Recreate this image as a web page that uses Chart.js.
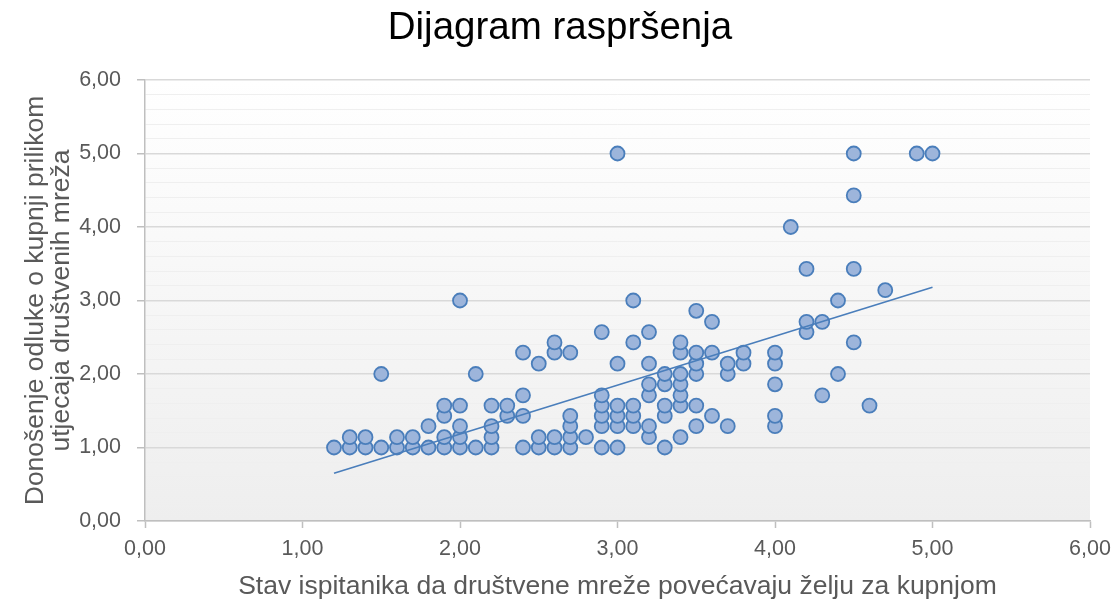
<!DOCTYPE html>
<html>
<head>
<meta charset="utf-8">
<script src="https://cdn.jsdelivr.net/npm/chart.js@4"></script>
<style>
  html, body { margin: 0; padding: 0; background: #fff; }
  canvas { display: block; }
</style>
</head>
<body>
<canvas id="chart" width="1120" height="601"></canvas>
<script>
// values, one line per x column
const xValues = [
  1.2,
  1.3, 1.3,
  1.4, 1.4,
  1.5, 1.5,
  1.6, 1.6,
  1.7, 1.7,
  1.8, 1.8,
  1.9, 1.9, 1.9, 1.9,
  2.0, 2.0, 2.0, 2.0, 2.0,
  2.1, 2.1,
  2.2, 2.2, 2.2, 2.2,
  2.3, 2.3,
  2.4, 2.4, 2.4, 2.4,
  2.5, 2.5, 2.5,
  2.6, 2.6, 2.6, 2.6,
  2.7, 2.7, 2.7, 2.7, 2.7,
  2.8,
  2.9, 2.9, 2.9, 2.9, 2.9, 2.9,
  3.0, 3.0, 3.0, 3.0, 3.0, 3.0,
  3.1, 3.1, 3.1, 3.1, 3.1,
  3.2, 3.2, 3.2, 3.2, 3.2, 3.2,
  3.3, 3.3, 3.3, 3.3, 3.3,
  3.4, 3.4, 3.4, 3.4, 3.4, 3.4, 3.4,
  3.5, 3.5, 3.5, 3.5, 3.5, 3.5,
  3.6, 3.6, 3.6,
  3.7, 3.7, 3.7,
  3.8, 3.8,
  4.0, 4.0, 4.0, 4.0, 4.0,
  4.1,
  4.2, 4.2, 4.2,
  4.3, 4.3,
  4.4, 4.4,
  4.5, 4.5, 4.5, 4.5,
  4.6,
  4.7,
  4.9,
  5.0
];
const yValues = [
  1.00,
  1.00, 1.14,
  1.00, 1.14,
  1.00, 2.00,
  1.00, 1.14,
  1.00, 1.14,
  1.00, 1.29,
  1.00, 1.14, 1.43, 1.57,
  1.00, 1.14, 1.29, 1.57, 3.00,
  1.00, 2.00,
  1.00, 1.14, 1.29, 1.57,
  1.43, 1.57,
  1.00, 1.43, 1.71, 2.29,
  1.00, 1.14, 2.14,
  1.00, 1.14, 2.29, 2.43,
  1.00, 1.14, 1.29, 1.43, 2.29,
  1.14,
  1.00, 1.29, 1.43, 1.57, 1.71, 2.57,
  1.00, 1.29, 1.43, 1.57, 2.14, 5.00,
  1.29, 1.43, 1.57, 2.43, 3.00,
  1.14, 1.29, 1.71, 1.86, 2.14, 2.57,
  1.00, 1.43, 1.57, 1.86, 2.00,
  1.14, 1.57, 1.71, 1.86, 2.00, 2.29, 2.43,
  1.29, 1.57, 2.00, 2.14, 2.29, 2.86,
  1.43, 2.29, 2.71,
  1.29, 2.00, 2.14,
  2.14, 2.29,
  1.29, 1.43, 1.86, 2.14, 2.29,
  4.00,
  2.57, 2.71, 3.43,
  1.71, 2.71,
  2.00, 3.00,
  2.43, 3.43, 4.43, 5.00,
  1.57,
  3.14,
  5.00,
  5.00
];

// linear trendline ends
const trendX = [1.2, 5.0];
const trendY = [0.65, 3.18];

const chartTitle = 'Dijagram raspršenja';
const xTitle = 'Stav ispitanika da društvene mreže povećavaju želju za kupnjom';
const yTitle = ['Donošenje odluke o kupnji prilikom', 'utjecaja društvenih mreža'];

const points = xValues.map((x, i) => ({ x: x, y: yValues[i] }));
const trendPoints = trendX.map((x, i) => ({ x: x, y: trendY[i] }));

const isMajor = v => Math.abs(v - Math.round(v)) < 1e-6;
const fmt = v => v.toFixed(2).replace('.', ',');

const plotBackground = {
    id: 'plotBackground',
    beforeDraw(chart) {
        const { ctx, chartArea: a } = chart;
        const g = ctx.createLinearGradient(0, a.top, 0, a.bottom);
        g.addColorStop(0, '#ffffff');
        g.addColorStop(1, '#eeeeee');
        ctx.save();
        ctx.fillStyle = g;
        ctx.fillRect(a.left, a.top, a.right - a.left, a.bottom - a.top);
        ctx.restore();
    }
};

const FONT = "'Liberation Sans', Arial, sans-serif";

new Chart(document.getElementById('chart'), {
    type: 'scatter',
    data: {
        datasets: [
            {
                label: 'data',
                data: points,
                pointRadius: 7,
                pointHoverRadius: 7,
                borderWidth: 1.8,
                borderColor: '#4a7ebb',
                backgroundColor: '#9db5db',
                order: 2
            },
            {
                type: 'line',
                label: 'trend',
                data: trendPoints,
                borderColor: '#4a7ebb',
                borderWidth: 1.6,
                pointRadius: 0,
                fill: false,
                order: 1
            }
        ]
    },
    options: {
        responsive: false,
        animation: false,
        layout: { padding: { left: 15, right: 15, top: 0, bottom: 0 } },
        plugins: {
            legend: { display: false },
            tooltip: { enabled: false },
            title: {
                display: true,
                text: chartTitle,
                color: '#000000',
                font: { family: FONT, size: 38.5, weight: 'normal', lineHeight: 1.2 },
                padding: { top: 5, bottom: 28.8 }
            }
        },
        scales: {
            x: {
                type: 'linear',
                min: 0,
                max: 6,
                ticks: {
                    stepSize: 1,
                    padding: 8,
                    color: '#595959',
                    font: { family: FONT, size: 21.5 },
                    callback: v => fmt(v)
                },
                grid: {
                    drawOnChartArea: false,
                    drawTicks: true,
                    tickLength: 7,
                    tickColor: '#bfbfbf',
                    tickWidth: 1.5
                },
                border: { color: '#bfbfbf', width: 1.5 },
                title: {
                    display: true,
                    text: xTitle,
                    color: '#595959',
                    font: { family: FONT, size: 26.5, lineHeight: 1.0 },
                    padding: { top: 0, bottom: 1 }
                },
                afterFit: scale => { scale.height = 80; }
            },
            y: {
                type: 'linear',
                min: 0,
                max: 6,
                ticks: {
                    stepSize: 0.2,
                    autoSkip: false,
                    padding: 16,
                    color: '#595959',
                    font: { family: FONT, size: 21.5 },
                    callback: v => isMajor(v) ? fmt(v) : ''
                },
                grid: {
                    drawTicks: true,
                    tickLength: 8,
                    color: c => isMajor(c.tick.value) ? '#d9d9d9' : '#efefef',
                    lineWidth: c => isMajor(c.tick.value) ? 1.5 : 1,
                    tickColor: c => isMajor(c.tick.value) ? '#bfbfbf' : 'rgba(0,0,0,0)',
                    tickWidth: 1.5
                },
                border: { color: '#bfbfbf', width: 1.5 },
                title: {
                    display: true,
                    text: yTitle,
                    color: '#595959',
                    font: { family: FONT, size: 26.5, lineHeight: 1.0 },
                    padding: { top: 7, bottom: 0 }
                },
                afterFit: scale => { scale.width = 130; }
            },
            // empty right-hand strip so the plot ends where the reference's does
            yRight: {
                type: 'linear',
                position: 'right',
                min: 0,
                max: 6,
                ticks: { display: false },
                grid: { drawOnChartArea: false, drawTicks: false },
                border: { display: false },
                afterFit: scale => { scale.width = 15; }
            }
        }
    },
    plugins: [plotBackground]
});
</script>
</body>
</html>
